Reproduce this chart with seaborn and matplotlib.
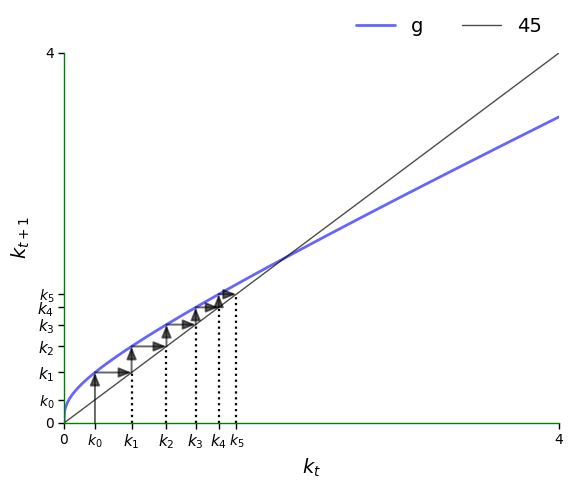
import matplotlib
matplotlib.use("Agg")
import matplotlib.pyplot as plt
import numpy as np
import seaborn as sns

# === Model parameters ===
A, s, alpha, delta = 2, 0.3, 0.3, 0.4
xmin, xmax = 0, 4

# capital path
k_path = [0.25, 0.546, 0.828, 1.064, 1.250, 1.392]
k_labels = ["$k_0$", "$k_1$", "$k_2$", "$k_3$", "$k_4$", "$k_5$"]


def g(k):
    return A * s * k**alpha + (1 - delta) * k


sns.set_style("white")
plt.rcParams["font.family"] = ["DejaVu Sans"]
plt.rcParams["text.color"] = "black"
plt.rcParams["axes.labelcolor"] = "black"
plt.rcParams["xtick.color"] = "black"
plt.rcParams["ytick.color"] = "black"

fig = plt.figure(figsize=(5.73, 4.88), dpi=100)
ax = fig.add_axes([64 / 573, 65 / 488, 495 / 573, 370 / 488])

x = np.linspace(xmin, xmax, 1000)
sns.lineplot(x=x, y=g(x), ax=ax, lw=2, alpha=0.6, color="blue", label="g")
sns.lineplot(x=x, y=x, ax=ax, lw=1, alpha=0.7, color="k", label="45")

arrow = dict(arrowstyle="-|>,head_width=0.2,head_length=0.5", lw=1.4, alpha=0.6,
             color="k", mutation_scale=15, shrinkA=0, shrinkB=0)
for i in range(len(k_path) - 1):
    k, kn = k_path[i], k_path[i + 1]
    start = 0 if i == 0 else k
    ax.annotate("", xy=(k, kn), xytext=(k, start), arrowprops=arrow)
    ax.annotate("", xy=(kn, kn), xytext=(k, kn), arrowprops=arrow)
    ax.plot((kn, kn), (0, kn), "k:", lw=1.6)

ax.set_xlim(xmin, xmax)
ax.set_ylim(xmin, xmax)
ticks = [0] + k_path + [xmax]
tick_labels = ["0"] + k_labels + [str(xmax)]
ax.set_xticks(ticks)
ax.set_xticklabels(tick_labels, fontsize=10)
ax.set_yticks(ticks)
ax.set_yticklabels(tick_labels, fontsize=10)
for lab in ax.get_xticklabels()[2:6] + ax.get_yticklabels()[2:6]:
    lab.set_fontsize(11)
ax.tick_params(length=4, width=1, colors="black", direction="out", left=True, bottom=True, pad=3)

for side in ["top", "right"]:
    ax.spines[side].set_visible(False)
for side in ["left", "bottom"]:
    ax.spines[side].set_color("green")
    ax.spines[side].set_linewidth(1)

ax.set_xlabel("$k_t$", fontsize=14)
ax.set_ylabel("$k_{t+1}$", fontsize=14)
ax.legend(loc="lower right", bbox_to_anchor=(1.0, 1.0), ncol=2, frameon=False, fontsize=14)

fig.savefig("out.png", dpi=100)
